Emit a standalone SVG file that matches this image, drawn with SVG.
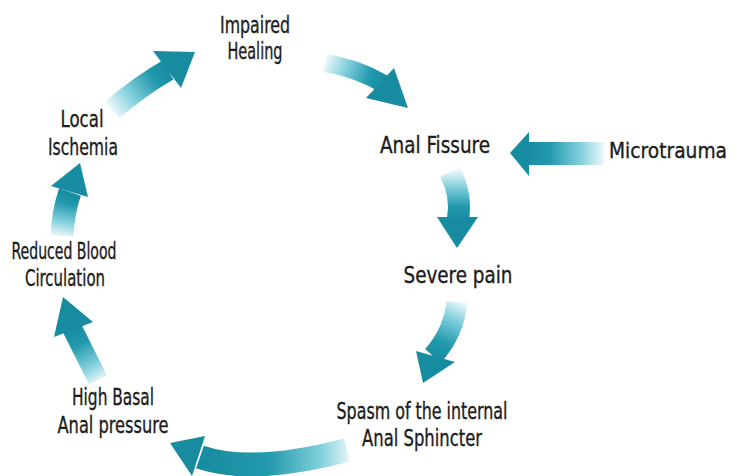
<svg xmlns="http://www.w3.org/2000/svg" width="738" height="476" viewBox="0 0 738 476">
<style>
text{font-family:"Liberation Sans Narrow","DejaVu Sans Condensed","Liberation Sans",sans-serif;font-stretch:condensed;font-size:23px;fill:#1c1c1c;stroke:#1c1c1c;stroke-width:0.35;text-anchor:middle}
.big{font-size:22px}
.shaft{fill:none;stroke-linecap:butt}
.head{fill:#178ca1}
</style>
<defs>
<linearGradient id="gA1" gradientUnits="userSpaceOnUse" x1="112" y1="111" x2="168" y2="69"><stop offset="0" stop-color="#eef9fb"/><stop offset="0.35" stop-color="#82d0dc"/><stop offset="0.75" stop-color="#2399ad"/><stop offset="1" stop-color="#178ca1"/></linearGradient>
<linearGradient id="gA2" gradientUnits="userSpaceOnUse" x1="324" y1="63" x2="384" y2="84"><stop offset="0" stop-color="#eef9fb"/><stop offset="0.35" stop-color="#82d0dc"/><stop offset="0.75" stop-color="#2399ad"/><stop offset="1" stop-color="#178ca1"/></linearGradient>
<linearGradient id="gA3" gradientUnits="userSpaceOnUse" x1="604" y1="0" x2="526" y2="0"><stop offset="0" stop-color="#eef9fb"/><stop offset="0.3" stop-color="#82d0dc"/><stop offset="0.7" stop-color="#2399ad"/><stop offset="1" stop-color="#178ca1"/></linearGradient>
<linearGradient id="gA4" gradientUnits="userSpaceOnUse" x1="0" y1="170" x2="0" y2="219"><stop offset="0" stop-color="#eef9fb"/><stop offset="0.35" stop-color="#82d0dc"/><stop offset="0.75" stop-color="#2399ad"/><stop offset="1" stop-color="#178ca1"/></linearGradient>
<linearGradient id="gA5" gradientUnits="userSpaceOnUse" x1="458" y1="300" x2="432" y2="358"><stop offset="0" stop-color="#eef9fb"/><stop offset="0.3" stop-color="#82d0dc"/><stop offset="0.7" stop-color="#2399ad"/><stop offset="1" stop-color="#178ca1"/></linearGradient>
<linearGradient id="gA6" gradientUnits="userSpaceOnUse" x1="352" y1="0" x2="200" y2="0"><stop offset="0" stop-color="#eef9fb"/><stop offset="0.2" stop-color="#82d0dc"/><stop offset="0.55" stop-color="#2399ad"/><stop offset="1" stop-color="#178ca1"/></linearGradient>
<linearGradient id="gA7" gradientUnits="userSpaceOnUse" x1="100" y1="382" x2="72" y2="328"><stop offset="0" stop-color="#eef9fb"/><stop offset="0.3" stop-color="#82d0dc"/><stop offset="0.7" stop-color="#2399ad"/><stop offset="1" stop-color="#178ca1"/></linearGradient>
<linearGradient id="gA8" gradientUnits="userSpaceOnUse" x1="61" y1="237" x2="70" y2="193"><stop offset="0" stop-color="#eef9fb"/><stop offset="0.35" stop-color="#82d0dc"/><stop offset="0.75" stop-color="#2399ad"/><stop offset="1" stop-color="#178ca1"/></linearGradient>
</defs>
<rect width="738" height="476" fill="#ffffff"/>
<g id="connectors">
<g id="a1"><path class="shaft" d="M112,110 Q140,86 168,70" stroke="url(#gA1)" stroke-width="22"/><polygon class="head" points="153,51 195,52 181,88"/></g>
<g id="a2"><path class="shaft" d="M325,63 Q357,68 384,84" stroke="url(#gA2)" stroke-width="18"/><polygon class="head" points="394,68 408,108 366,98"/></g>
<g id="a3"><rect x="526" y="142" width="78" height="23" fill="url(#gA3)"/><polygon class="head" points="529,132 510,153 529,176"/></g>
<g id="a4"><path class="shaft" d="M450,172 Q462,195 458,219" stroke="url(#gA4)" stroke-width="22"/><polygon class="head" points="437,217 478,217 457,248"/></g>
<g id="a5"><path class="shaft" d="M457,302 Q454,332 433,356" stroke="url(#gA5)" stroke-width="21"/><polygon class="head" points="416,351 455,362 423,383"/></g>
<g id="a6"><path class="shaft" d="M347,450 Q252,475 200,457" stroke="url(#gA6)" stroke-width="24"/><polygon class="head" points="205,436 170,443 192,476"/></g>
<g id="a7"><path class="shaft" d="M98,380 Q84,352 72,328" stroke="url(#gA7)" stroke-width="20"/><polygon class="head" points="54,337 63,297 93,322"/></g>
<g id="a8"><path class="shaft" d="M62,236 Q63,212 70,192" stroke="url(#gA8)" stroke-width="23"/><polygon class="head" points="51,186 80,163 88,197"/></g>
</g>
<g id="impaired-healing"><text x="255" y="33" textLength="70" lengthAdjust="spacingAndGlyphs">Impaired</text><text x="255" y="59" textLength="55" lengthAdjust="spacingAndGlyphs">Healing</text></g>
<g id="anal-fissure"><text x="435" y="153" textLength="110" lengthAdjust="spacingAndGlyphs">Anal Fissure</text></g>
<g id="microtrauma"><text class="big" x="668" y="158" textLength="118" lengthAdjust="spacingAndGlyphs">Microtrauma</text></g>
<g id="severe-pain"><text x="458" y="283" textLength="109" lengthAdjust="spacingAndGlyphs">Severe pain</text></g>
<g id="spasm"><text x="422" y="419" textLength="171" lengthAdjust="spacingAndGlyphs">Spasm of the internal</text><text x="422" y="446" textLength="120" lengthAdjust="spacingAndGlyphs">Anal Sphincter</text></g>
<g id="high-basal"><text x="113" y="405" textLength="82" lengthAdjust="spacingAndGlyphs">High Basal</text><text x="113" y="433" textLength="111" lengthAdjust="spacingAndGlyphs">Anal pressure</text></g>
<g id="reduced-blood"><text x="64" y="259" textLength="105" lengthAdjust="spacingAndGlyphs">Reduced Blood</text><text x="65" y="286" textLength="80" lengthAdjust="spacingAndGlyphs">Circulation</text></g>
<g id="local-ischemia"><text x="82" y="127" textLength="43" lengthAdjust="spacingAndGlyphs">Local</text><text x="83" y="155" textLength="70" lengthAdjust="spacingAndGlyphs">Ischemia</text></g>
</svg>
